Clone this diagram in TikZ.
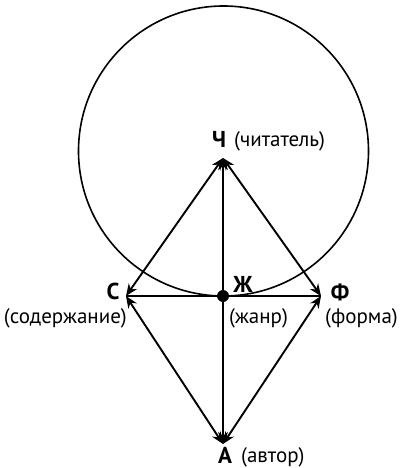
\documentclass[tikz,border=0pt]{standalone}
\usepackage{fontspec}
\setmainfont{PT Sans}
\usetikzlibrary{arrows.meta}

\begin{document}
\begin{tikzpicture}[
  x=1pt, y=-1pt, >={Stealth[length=12pt,width=10pt]},
  every node/.style={font=\fontsize{21}{23}\selectfont, inner sep=0pt},
  letter/.style={font=\fontsize{23}{25}\selectfont\bfseries},
  link/.style={<->, line width=1.9pt},
]
\useasboundingbox (0,0) rectangle (402,468);
\draw[line width=1.6pt] (223.5,151) circle (145);

% arrow ends
\coordinate (ch) at (223,158);
\coordinate (c) at (126,296);
\coordinate (f) at (321,296);
\coordinate (a) at (223,444);
\coordinate (zh) at (223,296);

% labels
\node[letter] (Ch) at (219,139) {Ч};
\node[anchor=west] (ChT) at (234,141) {(читатель)};
\node[letter] (C) at (113,291) {С};
\node[anchor=east] (CT) at (127,318) {(содержание)};
\node[letter] (Zh) at (243,284) {Ж};
\node[anchor=west] (ZhT) at (229,318) {(жанр)};
\node[letter] (F) at (340,292) {Ф};
\node[anchor=west] (FT) at (325,318) {(форма)};
\node[letter] (A) at (225,455) {А};
\node[anchor=west] (AT) at (241,457) {(автор)};

\draw[line width=1.9pt] (c) -- (f);
\draw[link] (c) -- (ch);
\draw[link] (ch) -- (f);
\draw[link] (ch) -- (a);
\draw[link] (c) -- (a);
\draw[link] (f) -- (a);
\fill (zh) circle (6);
\end{tikzpicture}
\end{document}
